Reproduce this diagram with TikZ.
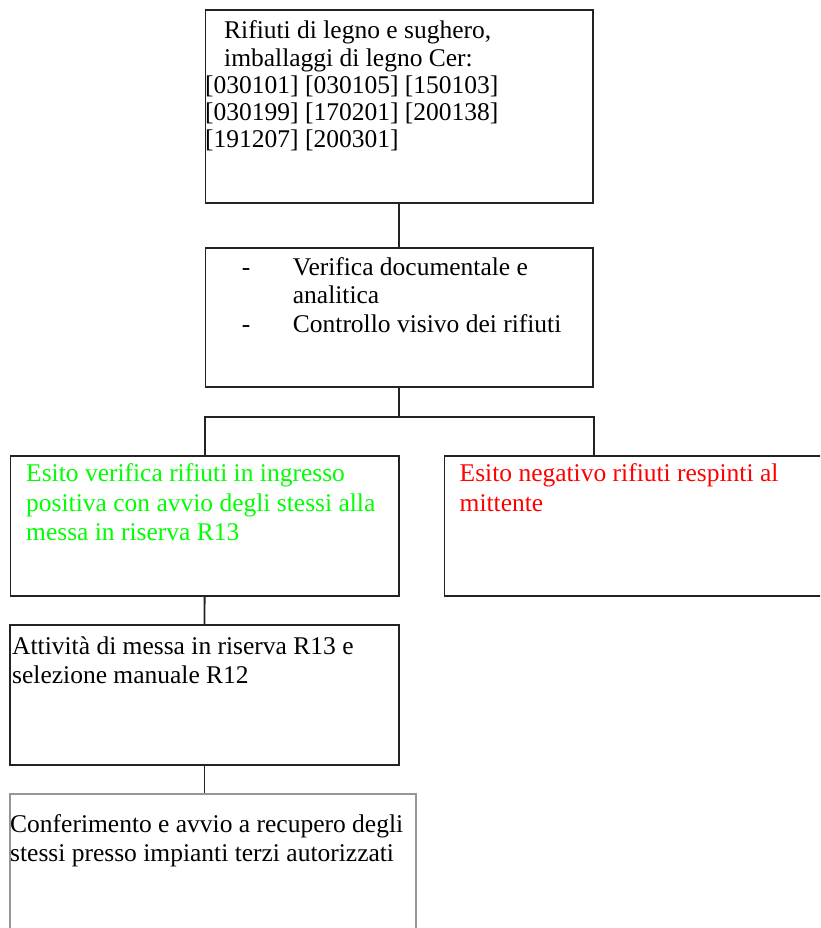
\documentclass[tikz,border=0pt]{standalone}
\usepackage{fontspec}
\setmainfont{Liberation Serif}
\usetikzlibrary{calc}
\definecolor{okgreen}{RGB}{0,255,0}
\definecolor{nored}{RGB}{255,0,0}
\definecolor{edge}{RGB}{35,35,35}
\definecolor{softgray}{RGB}{150,150,150}
\begin{document}
\begin{tikzpicture}[x=1pt,y=-1pt,
  box/.style={draw=edge, line width=1.8pt, rectangle, anchor=north west, inner sep=0pt},
  ln/.style={anchor=base west, inner sep=0pt, font=\fontsize{25.5}{28.5}\selectfont},
  wire/.style={draw=edge, line width=1.8pt}]
\useasboundingbox (0,0) rectangle (820,928);
\clip (0,0) rectangle (820,928);

% boxes
\node[box, minimum width=387.5pt, minimum height=193pt] (b1) at (204.5,9) {};
\node[box, minimum width=387.5pt, minimum height=139.5pt] (b2) at (204.5,246.7) {};
\node[box, minimum width=388.5pt, minimum height=140pt] (b3) at (9.5,455) {};
\node[box, minimum width=400pt, minimum height=140pt] (b4) at (443.5,455) {};
\node[box, minimum width=388.5pt, minimum height=139.7pt] (b5) at (9.3,624) {};
\node[box, draw=softgray, minimum width=405.7pt, minimum height=160pt] (b6) at (9.3,792.7) {};

% texts of the first box
\node[ln] (t1a) at (224,39) {Rifiuti di legno e sughero,};
\node[ln] (t1b) at (224,66.5) {imballaggi di legno Cer:};
\node[ln] (t1c) at (205,94) {[030101] [030105] [150103]};
\node[ln] (t1d) at (205,121) {[030199] [170201] [200138]};
\node[ln] (t1e) at (205,148) {[191207] [200301]};

% checks
\node[ln] (d2a) at (241.7,275) {-};
\node[ln] (t2a) at (292.7,275) {Verifica documentale e};
\node[ln] (t2b) at (292.7,303.5) {analitica};
\node[ln] (d2b) at (241.7,332) {-};
\node[ln] (t2c) at (292.7,332) {Controllo visivo dei rifiuti};

% outcomes
\node[ln, text=okgreen] (t3a) at (26,481.5) {Esito verifica rifiuti in ingresso};
\node[ln, text=okgreen] (t3b) at (26,511) {positiva con avvio degli stessi alla};
\node[ln, text=okgreen] (t3c) at (26,540) {messa in riserva R13};
\node[ln, text=nored] (t4a) at (459.5,481.5) {Esito negativo rifiuti respinti al};
\node[ln, text=nored] (t4b) at (459.5,511) {mittente};

% storage and delivery
\node[ln] (t5a) at (12,654) {Attività di messa in riserva R13 e};
\node[ln] (t5b) at (12,683) {selezione manuale R12};
\node[ln] (t6a) at (10,832) {Conferimento e avvio a recupero degli};
\node[ln] (t6b) at (10,861) {stessi presso impianti terzi autorizzati};

% connectors
\coordinate (bus) at ($(b2.south)+(0,29)$);
\coordinate (b4in) at (b2.east |- b4.north);
\draw[wire] (b1.south) -- (b2.north);
\draw[wire] (b2.south) -- (bus);
\draw[wire] (b3.north) |- (bus) -| (b4in);
\draw[wire] (b3.south) -- (b5.north);
\draw[wire] (b5.south) -- (b5.south |- b6.north);
\end{tikzpicture}
\end{document}
